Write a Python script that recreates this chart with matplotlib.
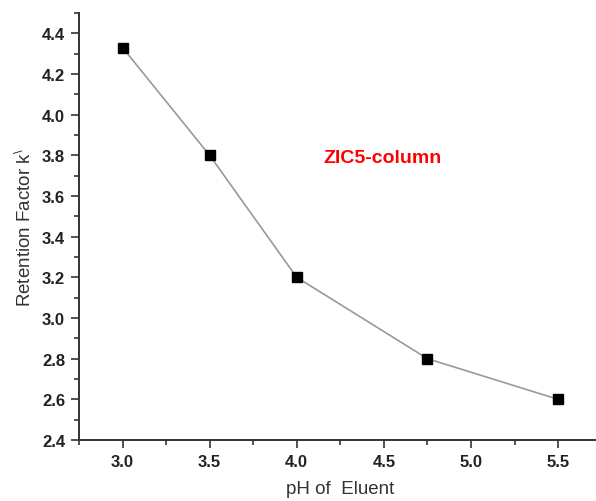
import matplotlib
matplotlib.use("Agg")
import matplotlib.pyplot as plt
from matplotlib.ticker import MultipleLocator

ph = [3.0, 3.5, 4.0, 4.75, 5.5]
k_values = [4.33, 3.80, 3.20, 2.80, 2.60]
x_ticks = [3.0, 3.5, 4.0, 4.5, 5.0, 5.5]
y_ticks = [2.4, 2.6, 2.8, 3.0, 3.2, 3.4, 3.6, 3.8, 4.0, 4.2, 4.4]

plt.rcParams['font.family'] = ['Liberation Sans', 'DejaVu Sans']
plt.rcParams['mathtext.fontset'] = 'custom'
plt.rcParams['mathtext.rm'] = 'Liberation Sans'

W, H = 596, 502
fig = plt.figure(figsize=(W / 100, H / 100), dpi=100)
left, right, top, bottom = 79, 601.6, 14, 441
ax = fig.add_axes([left / W, 1 - bottom / H, (right - left) / W, (bottom - top) / H])

ax.plot(ph, k_values, color='#999999', lw=1.2, zorder=2)
ax.plot(ph, k_values, ls='none', marker='s', ms=7.3, color='black', zorder=3)

ax.set_xlim(2.75, 5.75)
ax.set_ylim(2.4, 4.5)
ax.set_xticks(x_ticks)
ax.set_xticklabels([f"{v:.1f}" for v in x_ticks])
ax.set_yticks(y_ticks)
ax.set_yticklabels([f"{v:.1f}" for v in y_ticks])
ax.xaxis.set_minor_locator(MultipleLocator(0.25))
ax.yaxis.set_minor_locator(MultipleLocator(0.1))

for s in ['top', 'right']:
    ax.spines[s].set_visible(False)
for s in ['left', 'bottom']:
    ax.spines[s].set_linewidth(1.4)
    ax.spines[s].set_color('#333333')

ax.tick_params(which='major', direction='out', length=6, width=1.2, color='#333333',
               labelsize=12, pad=4)
ax.tick_params(which='minor', direction='out', length=3.5, width=1.2, color='#333333')
for lab in ax.get_xticklabels() + ax.get_yticklabels():
    lab.set_fontweight('bold')
    lab.set_color('#222222')

ax.set_xlabel('pH of  Eluent', fontsize=13.5, color='#333333', labelpad=8)
ax.set_ylabel(r'Retention Factor k$^{\backslash}$', fontsize=13.5, color='#333333', labelpad=5)

ax.text(4.495, 3.79, 'ZIC5-column', color='red', fontsize=14, fontweight='bold',
        ha='center', va='center')

fig.savefig('out.png', dpi=100)
